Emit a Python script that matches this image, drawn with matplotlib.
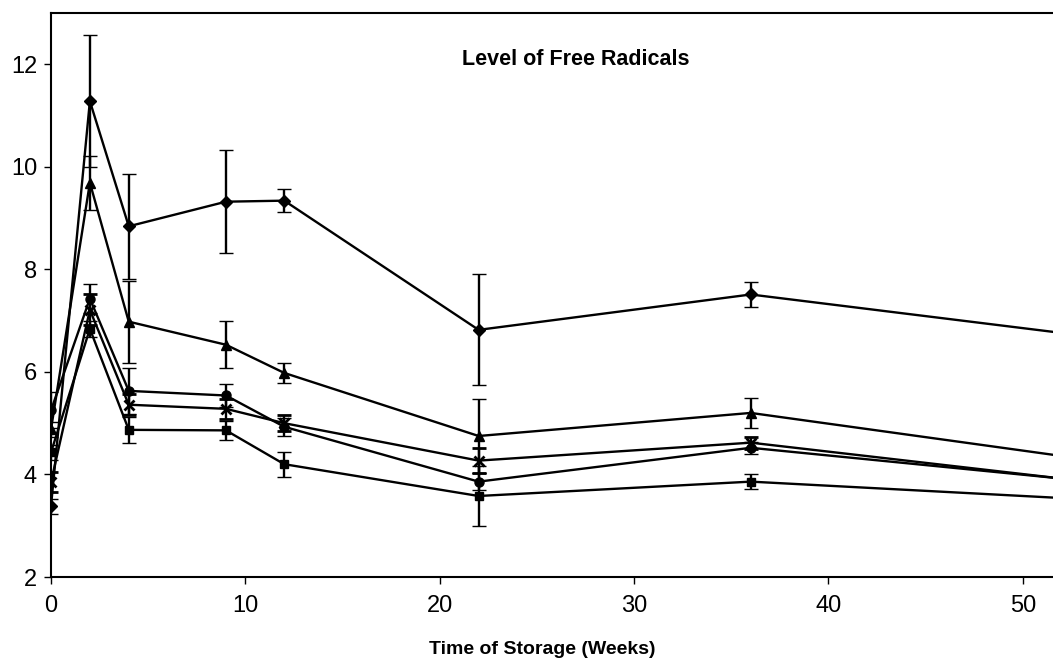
import matplotlib
matplotlib.use("Agg")
import matplotlib.pyplot as plt

plt.rcParams['font.family'] = ['Liberation Sans', 'DejaVu Sans']

weeks = [0, 2, 4, 9, 12, 22, 36, 52]

diamond = [3.38, 11.28, 8.84, 9.32, 9.34, 6.82, 7.51, 6.76]
diamond_err = [0.15, 1.29, 1.02, 1.0, 0.23, 1.08, 0.24, 0.2]

triangle = [4.88, 9.69, 6.98, 6.53, 5.98, 4.75, 5.2, 4.36]
triangle_err = [0.15, 0.53, 0.8, 0.46, 0.2, 0.73, 0.3, 0.2]

circle = [5.25, 7.43, 5.63, 5.54, 4.93, 3.86, 4.52, 3.92]
circle_err = [0.35, 0.28, 0.45, 0.22, 0.18, 0.17, 0.12, 0.1]

asterisk = [3.85, 7.21, 5.36, 5.28, 5.0, 4.27, 4.62, 3.92]
asterisk_err = [0.2, 0.3, 0.2, 0.2, 0.15, 0.25, 0.12, 0.1]

square = [4.43, 6.84, 4.87, 4.86, 4.2, 3.58, 3.86, 3.54]
square_err = [0.15, 0.16, 0.25, 0.18, 0.24, 0.58, 0.15, 0.1]

title = "Level of Free Radicals"
xlabel = "Time of Storage (Weeks)"
xticks = [0, 10, 20, 30, 40, 50]
yticks = [2, 4, 6, 8, 10, 12]

fig = plt.figure(figsize=(10.53, 6.66), dpi=100)
ax = fig.add_axes([51/1053, 1 - 577/666, 1 - 51/1053, (577 - 13)/666])

series = [
    (diamond, diamond_err, 'D', 6),
    (triangle, triangle_err, '^', 7),
    (circle, circle_err, 'o', 6.5),
    (asterisk, asterisk_err, 'x', 7),
    (square, square_err, 's', 6),
]
for vals, errs, mk, ms in series:
    ax.errorbar(weeks, vals, yerr=errs, color='black', lw=1.7, marker=mk,
                markersize=ms, mew=2 if mk == 'x' else 1, capsize=5,
                elinewidth=1.7, capthick=1.7, clip_on=True)

ax.set_xlim(0, 51.55)
ax.set_ylim(2, 13.0)
ax.set_xticks(xticks)
ax.set_yticks(yticks)
ax.tick_params(axis='both', labelsize=17, length=5, width=1, direction='out')
ax.tick_params(axis='y', pad=5)
ax.tick_params(axis='x', pad=8)
for side in ['left', 'top', 'bottom']:
    ax.spines[side].set_linewidth(1.5)
ax.spines['right'].set_visible(False)

ax.text(27.0, 12.1, title, fontsize=15.5, fontweight='bold', ha='center', va='center')
fig.text(542/1053, 1 - 650/666, xlabel, fontsize=14, fontweight='bold', ha='center', va='center')

fig.savefig('out.png', dpi=100)
